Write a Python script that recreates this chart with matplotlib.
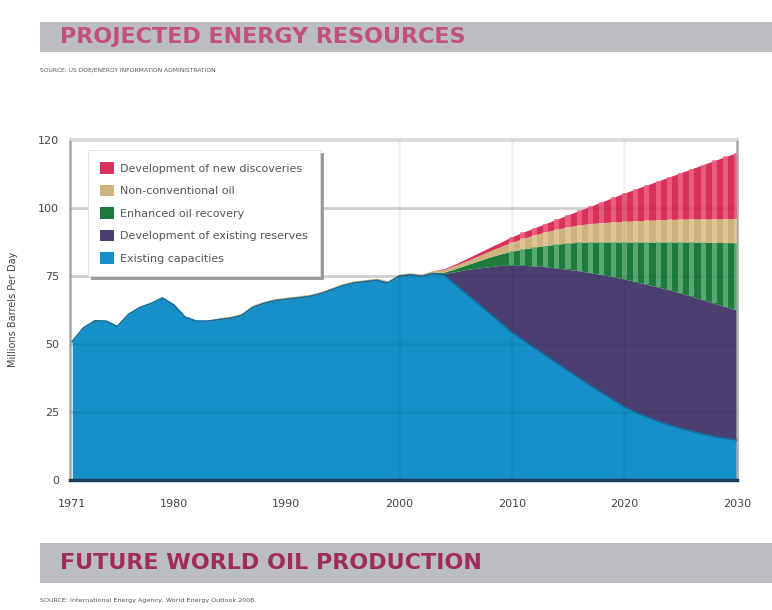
import matplotlib.pyplot as plt
from matplotlib.patches import Rectangle
import numpy as np

years = list(range(1971, 2031))

# million barrels per day, one value per year 1971-2030
existing_capacities = [
    51, 56, 58.6, 58.5, 56.5, 61, 63.5, 65, 67, 64.5,
    60, 58.5, 58.5, 59, 59.5, 60.5, 63.5, 65, 66, 66.5,
    67, 67.5, 68.5, 70, 71.5, 72.5, 73, 73.5, 72.5, 75,
    75.5, 75, 76, 75.5, 72, 68.5, 65, 61.5, 58, 54.5,
    51.5, 48.7, 45.9, 43.1, 40.3, 37.5, 34.8, 32.1, 29.5, 27,
    25, 23.2, 21.6, 20.2, 19, 17.9, 16.9, 16, 15.3, 14.7,
]
existing_reserves = [0] * 33 + [
    0.5, 4.7, 9, 13, 17, 21, 24.5,
    27.5, 30.1, 32.6, 34.9, 37.2, 39.5, 41.5, 43.5, 45.3, 47,
    48, 48.8, 49.4, 49.8, 49.8, 49.7, 49.4, 49, 48.5, 47.8,
]
enhanced_recovery = [0] * 32 + [
    0.3, 0.5, 1.1, 1.7, 2.6, 3.5, 4.2, 5.2,
    6, 6.9, 7.8, 8.8, 9.7, 10.5, 11.3, 12, 12.8, 13.6,
    14.6, 15.6, 16.6, 17.6, 18.8, 20, 21.2, 22.4, 23.6, 24.8,
]
non_conventional = [0] * 13 + [0.8] * 20 + [
    1, 1.2, 1.5, 1.8, 2.2, 2.7, 3.3,
    3.9, 4.5, 5, 5.5, 6, 6.4, 6.8, 7.1, 7.4, 7.6,
    7.8, 8, 8.2, 8.3, 8.4, 8.5, 8.6, 8.7, 8.8, 8.9,
]
new_discoveries = [0] * 33 + [
    0.3, 0.5, 0.8, 1.1, 1.3, 1.6, 2,
    2.3, 2.6, 3.1, 3.7, 4.4, 5.3, 6.4, 7.7, 9, 10.4,
    11.7, 13, 14.3, 15.7, 17.1, 18.5, 20, 21.5, 22.9, 24.3,
]

labels = ["Existing capacities", "Development of existing reserves",
          "Enhanced oil recovery", "Non-conventional oil",
          "Development of new discoveries"]
colors = ["#1590c8", "#4b3f72", "#1f7a3e", "#cdb27e", "#d8325a"]
stripe_colors = [None, None, "#6cb885", "#e3cd9c", "#f26a8a"]

year_ticks = [1971, 1980, 1990, 2000, 2010, 2020, 2030]
value_ticks = [0, 25, 50, 75, 100, 125]
value_tick_labels = ["0", "25", "50", "75", "100", "120"]

fig = plt.figure(figsize=(7.72, 6.1), dpi=100)
fig.patch.set_facecolor("white")

# header / footer bands
fig.patches.append(Rectangle((0.052, 0.915), 0.948, 0.049, transform=fig.transFigure,
                             facecolor="#bcbdc1", edgecolor="none"))
fig.patches.append(Rectangle((0.052, 0.044), 0.948, 0.066, transform=fig.transFigure,
                             facecolor="#bcbdc1", edgecolor="none"))
fig.text(0.078, 0.94, "PROJECTED ENERGY RESOURCES", fontsize=16, fontweight="bold",
         color="#c2507f", va="center", ha="left")
fig.text(0.052, 0.885, "SOURCE: US DOE/ENERGY INFORMATION ADMINISTRATION", fontsize=4.3,
         color="#555555", va="center", ha="left")
fig.text(0.078, 0.077, "FUTURE WORLD OIL PRODUCTION", fontsize=16, fontweight="bold",
         color="#a02c5c", va="center", ha="left")
fig.text(0.052, 0.016, "SOURCE: International Energy Agency, World Energy Outlook 2008",
         fontsize=4.6, color="#555555", va="center", ha="left")

ax = fig.add_axes([0.0907, 0.2131, 0.864, 0.559])

layers = [existing_capacities, existing_reserves, enhanced_recovery,
          non_conventional, new_discoveries]
x = np.array(years)
bottom = np.zeros(len(years))
fills = []
for values, color, label, stripe in zip(layers, colors, labels, stripe_colors):
    values = np.array(values, dtype=float)
    f = ax.fill_between(x, bottom, bottom + values, color=color, lw=0, label=label,
                        zorder=2)
    fills.append(f)
    if stripe is not None:
        proj = x >= 2010
        ax.bar(x[proj], values[proj], bottom=bottom[proj], width=0.45,
               color=stripe, alpha=0.75, lw=0, zorder=3)
    bottom = bottom + values

# darker edge on the historical production line
ax.plot(x, existing_capacities, color="#136d9c", lw=1.2, zorder=4)

ax.set_xlim(1970.8, 2030)
ax.set_ylim(0, 125.5)
ax.set_xticks(year_ticks)
ax.set_yticks(value_ticks)
ax.set_yticklabels(value_tick_labels)
ax.set_xticks([1980, 1990, 2000, 2010, 2020], minor=True)
ax.tick_params(axis="both", which="both", length=0, labelsize=8, colors="#444444",
               pad=8)
ax.tick_params(axis="x", pad=14)

# light grid behind the areas, faint overlay on top of them
ax.grid(True, axis="y", color="#dadada", lw=2, zorder=1)
ax.grid(True, axis="x", which="minor", color="#dadada", lw=2, zorder=1)
ax.set_axisbelow(True)
for yv in value_ticks[1:-1]:
    ax.axhline(yv, color="black", alpha=0.05, lw=2, zorder=5)
for xv in [2000, 2010, 2020]:
    ax.axvline(xv, color="black", alpha=0.05, lw=2, zorder=5)

for side in ["left", "right"]:
    ax.spines[side].set_color("#a8a8a8")
    ax.spines[side].set_linewidth(1.8)
ax.spines["top"].set_color("#dadada")
ax.spines["top"].set_linewidth(2)
ax.spines["bottom"].set_color("#1d3d5e")
ax.spines["bottom"].set_linewidth(2.5)
ax.spines["bottom"].set_zorder(6)

ax.set_ylabel("Millions Barrels Per Day", fontsize=7, color="#444444", labelpad=14)

handles = fills[::-1]
leg = ax.legend(handles, [h.get_label() for h in handles], loc="upper left",
                bbox_to_anchor=(0.027, 0.968), borderaxespad=0, fontsize=8,
                frameon=True, fancybox=False, edgecolor="#dddddd",
                shadow={"color": "#999999", "alpha": 1},
                handlelength=1.2, handleheight=1.2, handletextpad=0.6,
                labelspacing=1.0, borderpad=1.1)
leg.get_frame().set_linewidth(0.6)
for t in leg.get_texts():
    t.set_color("#555555")
leg.set_zorder(10)

fig.savefig("out.png", dpi=100)
